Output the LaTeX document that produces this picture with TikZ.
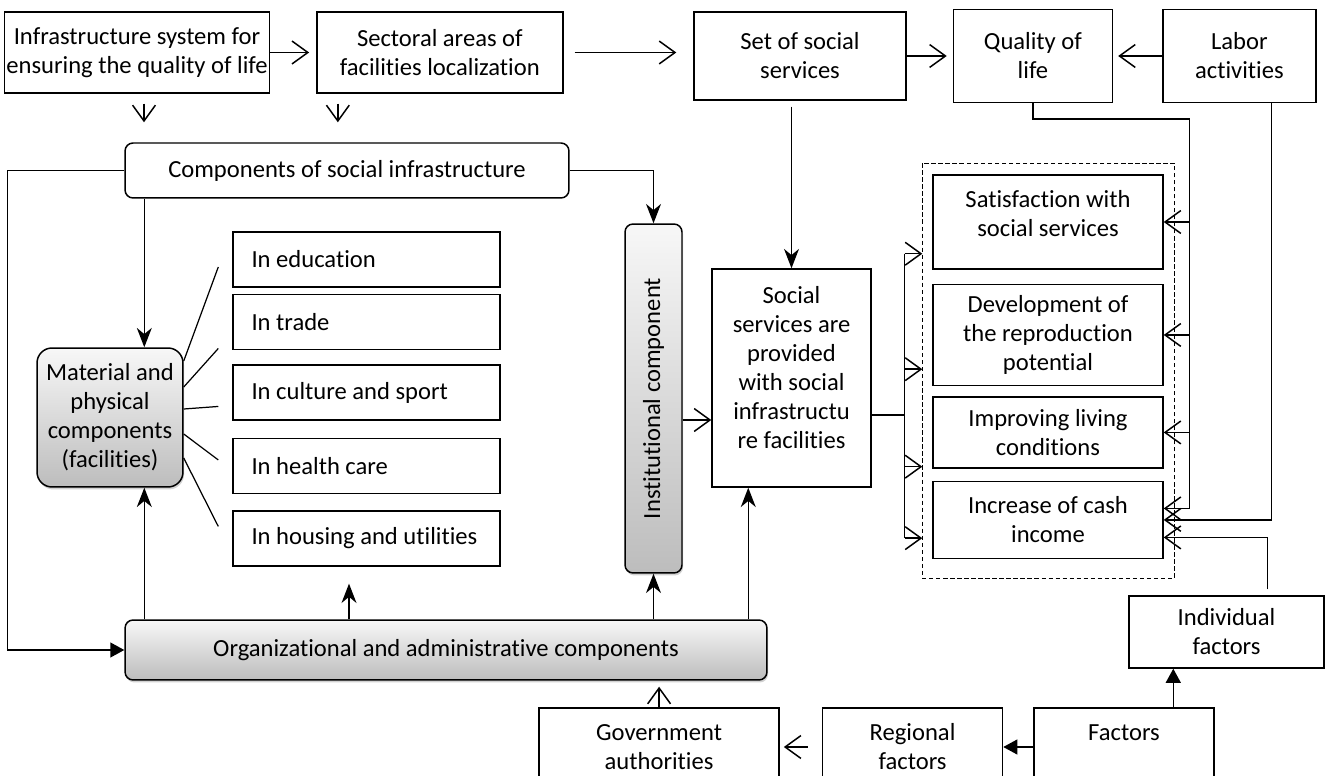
\documentclass[tikz,border=0pt]{standalone}
\usepackage{fontspec}
\setmainfont{Carlito}[Ligatures=NoCommon]
\usetikzlibrary{positioning}
\usetikzlibrary{calc}
\usetikzlibrary{arrows.meta}
\usetikzlibrary{shadows}

\tikzset{
  box/.style={draw, rectangle, align=center, inner sep=1pt, line width=0.85pt},
  listbox/.style={box, align=flush left, text width=4.6cm, inner xsep=0.37cm, minimum width=5.34cm, minimum height=1.1cm},
  rbox/.style={box, rounded corners=0.16cm},
  gbox/.style={rbox, top color=gray!6, bottom color=gray!52,
    drop shadow={shadow xshift=0.6pt, shadow yshift=-1.4pt, fill=gray!70}},
  openarr/.style={-{Straight Barb[length=9pt, width=13pt]}, line width=0.85pt},
  stl/.style={-{Stealth[length=11pt, width=8.5pt, inset=3.5pt]}, line width=0.85pt},
  tri/.style={-{Triangle[length=8pt, width=8.5pt]}, line width=0.85pt},
}

\begin{document}
\begin{tikzpicture}[x=0.02cm, y=-0.02cm, font=\fontsize{14}{16.5}\selectfont, line width=0.85pt]
    \useasboundingbox (0,0) rectangle (1325,776);

    % top row
    \node[box, minimum width=5.16cm, minimum height=1.62cm] (infra) at (137,52.5) {Infrastructure system for\\ensuring the quality of life};
    \node[box, minimum width=4.92cm, minimum height=1.62cm, right=0.92cm of infra] (sect) {Sectoral areas of\\facilities localization};
    \node[box, minimum width=4.24cm, minimum height=1.76cm] (setss) at (800,56) {Set of social\\services};
    \node[box, minimum width=3.18cm, minimum height=1.86cm, right=0.92cm of setss] (qual) {Quality of\\life};
    \node[box, minimum width=3.06cm, minimum height=1.86cm, right=0.98cm of qual] (labor) {Labor\\activities};

    % components
    \node[rbox, minimum width=8.88cm, minimum height=1.1cm] (comp) at (347,170.5) {Components of social infrastructure};
    \node[gbox, rounded corners=0.3cm, minimum width=2.92cm, minimum height=2.78cm] (mat) at (110,417.5) {Material and\\physical\\components\\(facilities)};

    \node[listbox] (edu) at (366.5,259.5) {In education};
    \node[listbox, below=0.12cm of edu] (trade) {In trade};
    \node[listbox, below=0.28cm of trade] (cult) {In culture and sport};
    \node[listbox, below=0.34cm of cult] (health) {In health care};
    \node[listbox, below=0.32cm of health] (house) {In housing and utilities};

    \node[gbox, minimum width=1.14cm, minimum height=6.98cm] (inst) at (653.5,398.5) {\rotatebox{90}{Institutional component}};
    \node[box, minimum width=3.18cm, minimum height=4.36cm, text depth=0.44cm] (socs) at (791.5,378) {Social\\services are\\provided\\with social\\infrastructu\\re facilities};

    \node[gbox, minimum width=12.84cm, minimum height=1.2cm] (org) at (446,650) {Organizational and administrative components};

    % results
    \node[box, minimum width=4.6cm, minimum height=1.88cm, text depth=0.34cm] (satis) at (1048,222) {Satisfaction with\\social services};
    \node[box, minimum width=4.6cm, minimum height=2.02cm, below=0.28cm of satis] (devel) {Development of\\the reproduction\\potential};
    \node[box, minimum width=4.6cm, minimum height=1.42cm, below=0.2cm of devel] (improv) {Improving living\\conditions};
    \node[box, minimum width=4.6cm, minimum height=1.54cm, below=0.24cm of improv] (cash) {Increase of cash\\income};
    \draw[dash pattern=on 2.5pt off 1.5pt, line width=0.5pt] ($(satis.north west)+(-10,-11)$) rectangle ($(cash.south east)+(11,19)$);

    % factors
    \node[box, minimum width=3.9cm, minimum height=1.44cm] (indiv) at (1226.5,632) {Individual\\factors};
    \node[box, minimum width=3.6cm, minimum height=1.56cm] (factors) at (1124,747) {Factors\\\mbox{}};
    \node[box, minimum width=3.6cm, minimum height=1.56cm, left=0.6cm of factors] (regional) {Regional\\factors};
    \node[box, minimum width=4.8cm, minimum height=1.56cm, left=0.84cm of regional] (gov) {Government\\authorities};

    % top arrows
    \draw[openarr, shorten >=0.14cm] (infra) -- (sect);
    \draw[openarr, shorten <=0.22cm, shorten >=0.34cm] (sect.east) -- (sect.east -| setss.west);
    \draw[openarr, shorten >=0.12cm] (setss.east) -- (setss.east -| qual.west);
    \draw[openarr, shorten >=0.1cm] (labor) -- (qual);
    \coordinate (d1) at ($(infra.south)+(7,0)$);
    \coordinate (d2) at ($(sect.south)+(-102,0)$);
    \draw[openarr, shorten <=0.2cm, shorten >=0.4cm] (d1) -- (d1 |- comp.north);
    \draw[openarr, shorten <=0.2cm, shorten >=0.4cm] (d2) -- (d2 |- comp.north);

    % components links
    \draw[tri] (comp.west) -- ++(-117,0) |- (org.west);
    \draw[stl] (comp.east) -| (inst.north);
    \coordinate (m1) at ($(comp.south west)+(20,0)$);
    \draw[stl] (m1) -- (m1 |- mat.north);
    \foreach \b/\s/\e in {edu/-56.5/7.5, trade/-30.5/26.5, cult/-8.5/14, health/16.5/-6, house/40.5/-12}
        \draw[line width=0.7pt] ($(mat.east)+(0,\s)$) -- ($(\b.west)+(-14,\e)$);

    % organizational links
    \coordinate (m2) at ($(org.north west)+(20,0)$);
    \draw[stl] (m2) -- (m2 |- mat.south);
    \coordinate (m3) at ($(org.north -| house.south)+(-17.5,0)$);
    \draw[stl, shorten >=0.34cm] (m3) -- (m3 |- house.south);
    \draw[stl] (inst.south |- org.north) -- (inst.south);
    \coordinate (m4) at ($(socs.south west)+(37,0)$);
    \draw[stl] (m4 |- org.north) -- (m4);

    \coordinate (i1) at ($(inst.east)+(0,21.5)$);
    \draw[openarr] (i1) -- (i1 -| socs.west);
    \draw[stl, shorten <=0.12cm] (socs.north |- setss.south) -- (socs.north);

    % to the results
    \coordinate (gl) at ($(satis.west)+(-10,0)$);
    \coordinate (sout) at ($(socs.east)+(0,37)$);
    \coordinate (bus) at ($(sout)+(33,0)$);
    \coordinate (t1) at ($(satis.south)+(0,-16)$);
    \coordinate (t2) at ($(devel.south)+(0,-17)$);
    \coordinate (t3) at ($(improv.south)+(0,-2)$);
    \coordinate (t4) at ($(cash.south)+(0,-21)$);
    \draw (sout) -- (bus);
    \draw (bus |- t1) -- (bus |- t4);
    \foreach \t in {t1,t2,t3,t4}
        \draw[openarr] (bus |- \t) -- (gl |- \t);

    \coordinate (rtop) at ($(qual.south)+(0,16)$);
    \coordinate (rbus) at ($(satis.east |- rtop)+(26,0)$);
    \coordinate (c1) at ($(cash.east)+(0,-11.5)$);
    \draw[openarr] (qual.south) -- (rtop) -- (rbus) |- (c1);
    \foreach \n in {satis, devel, improv}
        \draw[openarr] (rbus |- \n.east) -- (\n.east);
    \coordinate (l1) at ($(labor.south east)+(-45,0)$);
    \draw[openarr] (l1) |- (cash.east);
    \coordinate (f1) at ($(indiv.north east)+(-57,-6)$);
    \draw[openarr] (f1) |- ($(cash.east)+(0,17.5)$);

    % factors links
    \coordinate (fup) at ($(factors.north west)+(140,0)$);
    \draw[tri] (fup) -- (fup |- indiv.south);
    \draw[tri] (factors) -- (regional);
    \draw[openarr, shorten <=0.28cm, shorten >=0.08cm] (regional) -- (gov);
    \draw[openarr, shorten >=0.12cm] (gov.north) -- (gov.north |- org.south);
\end{tikzpicture}
\end{document}
